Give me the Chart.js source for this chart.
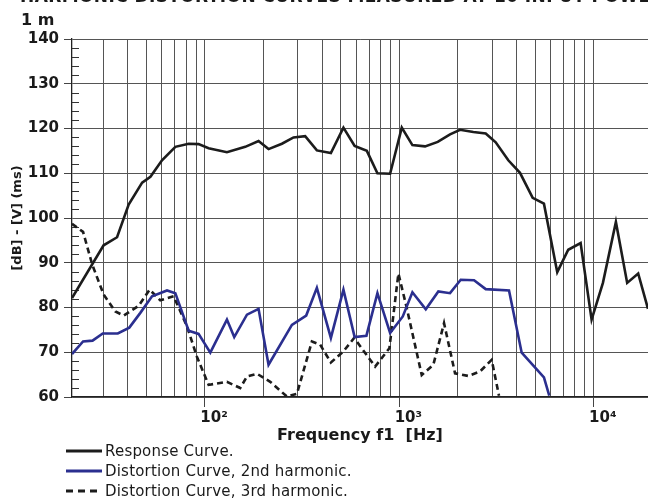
<!DOCTYPE html>
<html>
<head>
<meta charset="utf-8">
<script src="https://cdn.jsdelivr.net/npm/chart.js@4.4.1/dist/chart.umd.min.js"></script>
<style>
  html, body { margin: 0; padding: 0; background: #fff; overflow: hidden; }
  #wrap { position: relative; width: 648px; height: 499px; overflow: hidden; background: #fff; }
  #c { position: absolute; left: 0; top: 0; }
  .ttl { position: absolute; font-family: "DejaVu Sans", sans-serif; font-weight: bold; color: #1a1a1a; white-space: nowrap; line-height: 1; }
  #legend { position: absolute; left: 66px; top: 441px; font-family: "DejaVu Sans", sans-serif; font-size: 15px; letter-spacing: 0.2px; color: #1a1a1a; }
  #legend .row { height: 20px; display: flex; align-items: center; white-space: nowrap; }
  #legend svg { margin-right: 3px; }
</style>
</head>
<body>
<div id="wrap">
  <canvas id="c" width="648" height="499"></canvas>
  <div class="ttl" style="left:20px; top:-12.5px; font-size:17px; letter-spacing:0.4px;">HARMONIC DISTORTION CURVES MEASURED AT 10 INPUT POWER</div>
  <div class="ttl" style="left:21px; top:12px; font-size:16px;">1 m</div>
  <div id="legend"></div>
</div>
<script>
// ---- Data ----
const respFreq = [20.7, 30.1, 35.3, 40.5, 47.5, 52.4, 60.1, 70.4, 82.4, 92.7, 104.4, 129.7, 161.1, 188.6, 212.3, 248.7, 285.4, 327.6, 376.3, 444.2, 515.4, 588.6, 680, 770.9, 895.9, 1028.7, 1166.5, 1355.6, 1575, 1822, 2051, 2401, 2780, 3129, 3632, 4172, 4848, 5540, 6486, 7387, 8553, 9743, 11140, 12991, 14845, 16915, 19000];
const respDb   = [82.1, 93.9, 95.7, 103.0, 107.9, 109.2, 112.9, 115.9, 116.6, 116.5, 115.6, 114.7, 115.9, 117.2, 115.4, 116.6, 118.0, 118.3, 115.1, 114.5, 120.2, 116.1, 115.0, 110.0, 109.9, 120.2, 116.3, 116.0, 117.0, 118.7, 119.7, 119.2, 118.9, 116.9, 112.9, 110.1, 104.5, 103.2, 87.9, 92.9, 94.4, 77.3, 85.5, 99.1, 85.5, 87.6, 79.7];

const h2Freq = [20.7, 23.6, 26.4, 29.8, 35.6, 40.8, 46.5, 53.4, 63.8, 70.4, 82.4, 92.7, 106.5, 129.7, 141.4, 164.4, 188.6, 212.3, 280, 331.6, 376.3, 444.2, 515.4, 588.6, 676.7, 770.9, 895.9, 1041, 1166.5, 1367, 1586, 1822, 2068, 2421, 2780, 3663, 4256, 5540, 5900];
const h2Db   = [69.6, 72.4, 72.6, 74.2, 74.2, 75.5, 78.8, 82.5, 83.8, 83.2, 74.8, 74.1, 69.9, 77.3, 73.4, 78.4, 79.7, 67.2, 76.1, 78.2, 84.4, 73.2, 84.0, 73.4, 73.7, 83.2, 74.3, 78.0, 83.4, 79.6, 83.6, 83.2, 86.2, 86.1, 84.1, 83.8, 69.9, 64.4, 60.3];

const h3Freq = [20.7, 23.6, 26.3, 30.1, 34.6, 38.2, 45.6, 51.9, 58.9, 69.0, 80.8, 90.9, 104.4, 129.7, 151.8, 164.4, 185, 216.6, 263.9, 297.1, 354.8, 391.3, 444.2, 515.4, 585.1, 750.2, 888.3, 988.3, 1091, 1303, 1495, 1697, 1933, 2262, 2598, 2984, 3253];
const h3Db   = [98.7, 96.9, 89.6, 82.9, 79.1, 78.2, 80.4, 84.0, 81.6, 82.5, 75.8, 69.0, 62.7, 63.4, 62.0, 64.6, 65.2, 63.4, 60.1, 60.7, 72.4, 71.7, 67.7, 70.2, 73.2, 66.8, 70.9, 87.6, 79.9, 64.9, 67.2, 76.5, 65.3, 64.7, 65.7, 68.3, 60.3];

const xGridValues = [30, 40, 50, 60, 70, 80, 90, 100, 200, 300, 400, 500, 600, 700, 800, 900, 1000, 2000, 3000, 4000, 5000, 6000, 7000, 8000, 9000, 10000];
const xTickLabels = {100: '10²', 1000: '10³', 10000: '10⁴'};
const seriesNames = ['Response Curve.', 'Distortion Curve, 2nd harmonic.', 'Distortion Curve, 3rd harmonic.'];
const xTitle = 'Frequency f1  [Hz]';
const yTitle = '[dB] - [V] (ms)';

const toPts = (xs, ys) => xs.map((x, i) => ({x: x, y: ys[i]}));
const GRID = '#555555';
const INK = '#1c1c1c';
const BLUE = '#2b2f8f';

const minorTicks = {
  id: 'minorTicks',
  beforeDatasetsDraw(chart) {
    const y = chart.scales.y;
    const ctx = chart.ctx;
    ctx.save();
    ctx.strokeStyle = '#333';
    ctx.lineWidth = 1;
    for (let v = 62; v < 140; v += 2) {
      if (v % 10 === 0) continue;
      const py = Math.round(y.getPixelForValue(v)) + 0.5;
      ctx.beginPath();
      ctx.moveTo(chart.chartArea.left, py);
      ctx.lineTo(chart.chartArea.left + 7, py);
      ctx.stroke();
    }
    ctx.restore();
  }
};

const chart = new Chart(document.getElementById('c'), {
  type: 'line',
  data: {
    datasets: [
      { label: seriesNames[0], data: toPts(respFreq, respDb), borderColor: INK, borderWidth: 2.6, pointRadius: 0, tension: 0 },
      { label: seriesNames[1], data: toPts(h2Freq, h2Db), borderColor: BLUE, borderWidth: 2.6, pointRadius: 0, tension: 0 },
      { label: seriesNames[2], data: toPts(h3Freq, h3Db), borderColor: INK, borderWidth: 2.6, borderDash: [6, 4], pointRadius: 0, tension: 0 }
    ]
  },
  options: {
    responsive: false,
    animation: false,
    devicePixelRatio: 1,
    layout: { padding: { top: 39, left: 0, right: 0, bottom: 0 } },
    plugins: { legend: { display: false }, tooltip: { enabled: false }, title: { display: false } },
    scales: {
      x: {
        type: 'logarithmic',
        min: 20.7,
        max: 19000,
        afterBuildTicks: (s) => { s.ticks = xGridValues.map(v => ({ value: v })); },
        afterFit: (s) => { s.height = 102; },
        grid: {
          color: GRID,
          lineWidth: 1,
          drawTicks: true,
          tickLength: 10,
          tickColor: (c) => (c.tick && xTickLabels[c.tick.value]) ? '#444' : 'rgba(0,0,0,0)'
        },
        border: { display: true, color: '#222', width: 1.3 },
        ticks: {
          autoSkip: false,
          maxRotation: 0,
          padding: 2,
          labelOffset: 9,
          color: '#1a1a1a',
          font: { family: 'DejaVu Sans', size: 15, weight: 'bold' },
          callback: (v) => xTickLabels[v] || ''
        },
        title: {
          display: true,
          text: xTitle,
          color: '#1a1a1a',
          font: { family: 'DejaVu Sans', size: 16, weight: 'bold' },
          padding: { top: 0, bottom: 54 }
        }
      },
      y: {
        type: 'linear',
        min: 60,
        max: 140,
        afterFit: (s) => { s.width = 72; },
        grid: {
          color: (c) => (c.tick && c.tick.value % 10 === 0) ? GRID : 'rgba(0,0,0,0)',
          lineWidth: 1,
          tickLength: 8,
          tickColor: (c) => (c.tick && c.tick.value % 10 === 0) ? '#444' : 'rgba(0,0,0,0)'
        },
        border: { display: true, color: '#222', width: 1.3 },
        ticks: {
          stepSize: 2,
          autoSkip: false,
          padding: 5,
          color: '#1a1a1a',
          font: { family: 'DejaVu Sans', size: 15, weight: 'bold' },
          callback: (v) => (v % 10 === 0 ? String(v) : '')
        },
        title: {
          display: true,
          text: yTitle,
          color: '#1a1a1a',
          font: { family: 'DejaVu Sans', size: 13, weight: 'bold' },
          padding: { top: 10, bottom: 0 }
        }
      }
    }
  },
  plugins: [minorTicks]
});

// Legend built from the chart's datasets
const leg = document.getElementById('legend');
chart.data.datasets.forEach(ds => {
  const row = document.createElement('div');
  row.className = 'row';
  const dash = ds.borderDash ? `stroke-dasharray="7 5"` : '';
  row.innerHTML = `<svg width="36" height="6"><line x1="0" y1="3" x2="36" y2="3" stroke="${ds.borderColor}" stroke-width="3" ${dash}/></svg><span>${ds.label}</span>`;
  leg.appendChild(row);
});
</script>
</body>
</html>
